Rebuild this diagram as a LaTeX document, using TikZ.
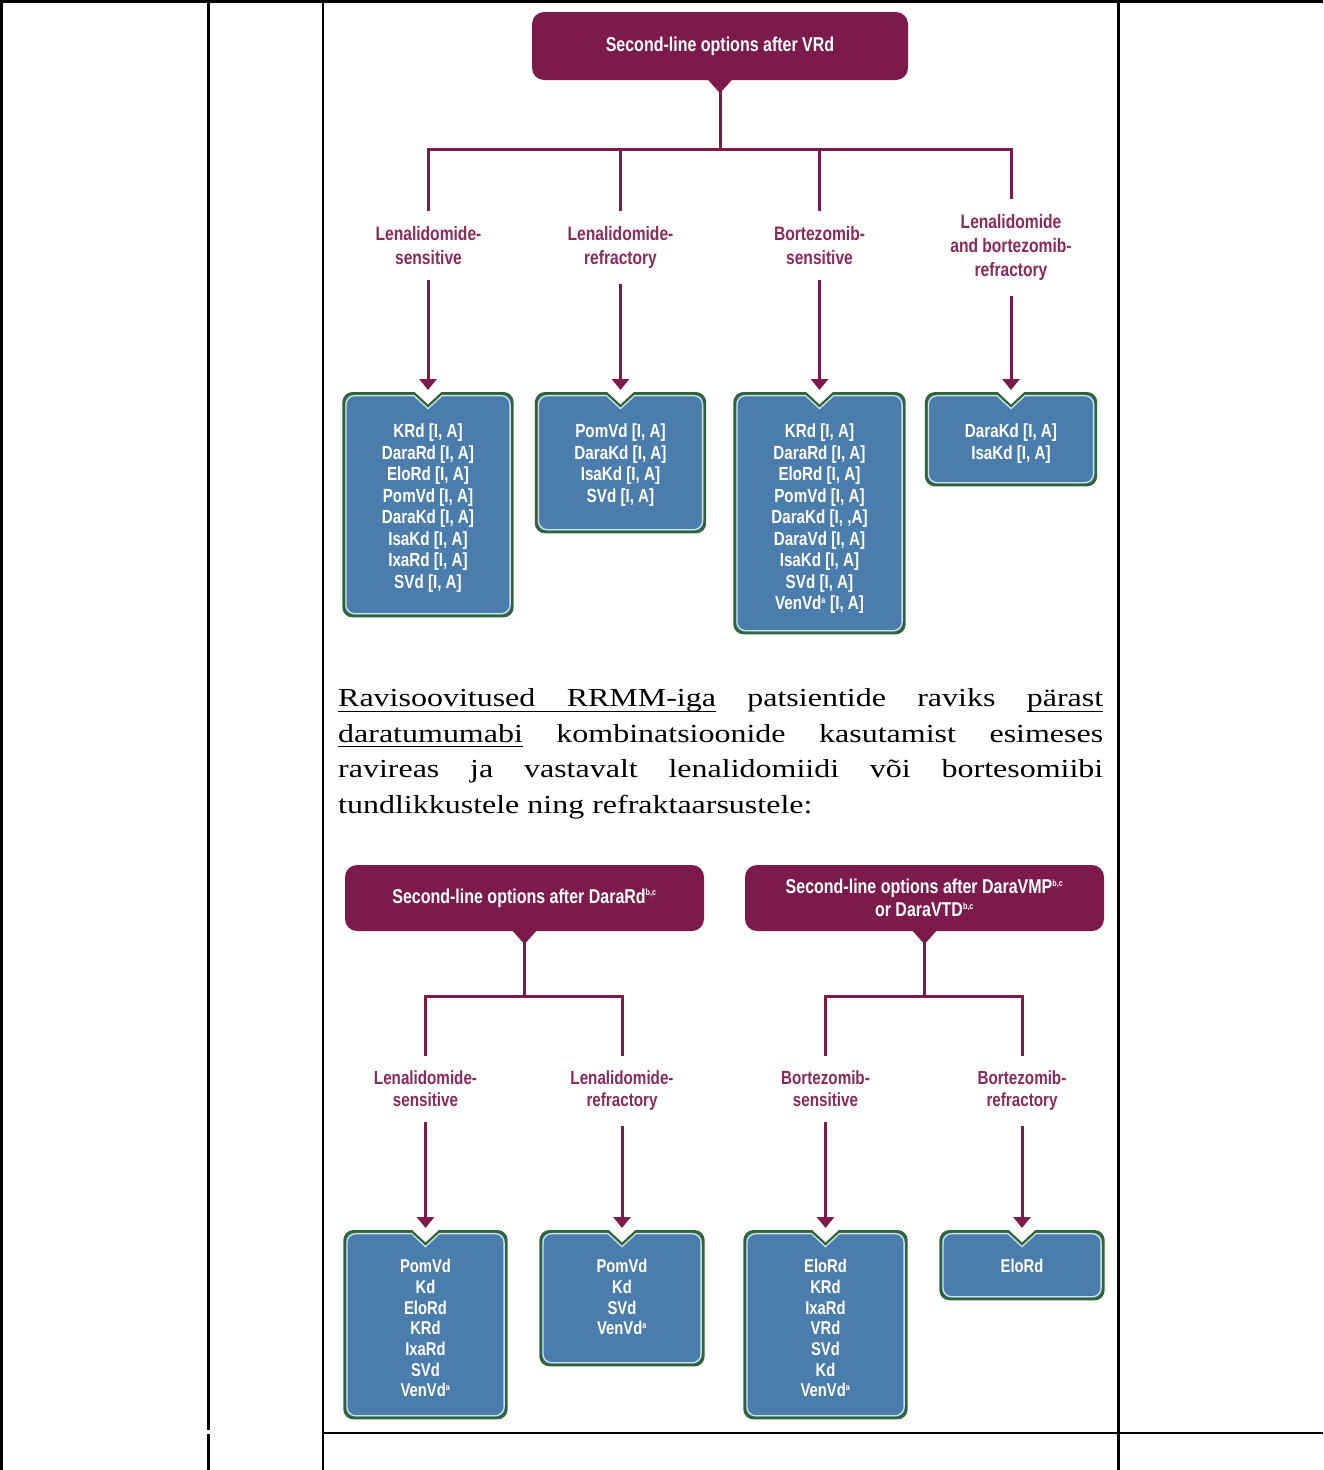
\documentclass[tikz,border=0pt]{standalone}
\usepackage{fontspec}
\setmainfont{Liberation Serif}
\newfontfamily\parafont[FakeStretch=1.23]{Liberation Serif}
\newfontfamily\cond[FakeStretch=0.8]{Liberation Sans}
\usetikzlibrary{arrows.meta,calc}

\definecolor{plum}{HTML}{7C1A4C}
\definecolor{labelplum}{HTML}{8A2A5A}
\definecolor{boxblue}{HTML}{4A7DAC}
\definecolor{boxgreen}{HTML}{2C6638}
\definecolor{boxrim}{HTML}{D2E0E8}

\tikzset{
  rule/.style={line width=2.6pt, draw=black},
  header/.style={fill=plum, rounded corners=12pt, inner sep=0pt, text=white,
    font=\cond\bfseries\fontsize{20}{23}\selectfont, align=center},
  branch/.style={line width=3pt, draw=plum},
  flow/.style={line width=3pt, draw=plum, shorten >=2pt,
    -{Triangle[width=17pt,length=11pt]}},
  branchlabel/.style={text=labelplum, font=\cond\bfseries\fontsize{19.5}{24}\selectfont,
    align=center, inner xsep=2pt, inner ysep=15pt, anchor=north},
  boxnode/.style={inner sep=0pt, draw=none},
  boxtext/.style={text=white, font=\cond\bfseries\fontsize{19}{21.5}\selectfont,
    align=center, inner sep=0pt, anchor=north},
  boxtextsmall/.style={boxtext, font=\cond\bfseries\fontsize{18.5}{20.7}\selectfont},
  para/.style={anchor=base west, inner sep=0pt, font=\parafont\fontsize{26}{35.5}\selectfont}
}

% underlined word, and an underlined space that stretches with the line
\newsavebox\ulbox
\newcommand\ulword[1]{\sbox\ulbox{#1}\rlap{\rule[-5.3pt]{\wd\ulbox}{1.4pt}}\usebox\ulbox}
\newcommand\ulspace{\leaders\hrule height -3.9pt depth 5.3pt\hskip\fontdimen2\font plus\fontdimen3\font minus\fontdimen4\font\relax}

% outline of an option box: rounded rectangle with a V notch at the top
\newcommand\notchpath[2]{%
  ($(#1.north)+(-14,#2)$) -- ($(#1.north west)+(#2+9,#2)$)
  arc[start angle=270,end angle=180,radius=9]
  -- ($(#1.south west)+(#2,-#2-9)$) arc[start angle=180,end angle=90,radius=9]
  -- ($(#1.south east)+(-#2-9,-#2)$) arc[start angle=90,end angle=0,radius=9]
  -- ($(#1.north east)+(-#2,#2+9)$) arc[start angle=0,end angle=-90,radius=9]
  -- ($(#1.north)+(14,#2)$) -- ($(#1.north)+(0,#2+13)$) -- cycle}

% name, centre x, top y, width, height
\newcommand\notchbox[5]{%
  \node[boxnode, minimum width=#4pt, minimum height=#5pt, anchor=north] (#1) at (#2,#3) {};
  \fill[boxblue] \notchpath{#1}{1.4};
  \draw[boxgreen, line width=2.8pt] \notchpath{#1}{1.4};
  \draw[boxrim, line width=1.3pt] \notchpath{#1}{3.6};
}

% header pointer under a header node
\newcommand\pointer[1]{%
  \fill[plum] ($(#1.south)+(-12.5,-1)$) -- ($(#1.south)+(0,13)$) -- ($(#1.south)+(12.5,-1)$) -- cycle;
}

\newcommand\sups[1]{\textsuperscript{\fontsize{9}{9}\selectfont #1}}

\begin{document}
\begin{tikzpicture}[x=1pt,y=-1pt]
\useasboundingbox (0,0) rectangle (1323,1470);

% table rules
\draw[rule] (0,1.2) -- (1323,1.2);
\draw[rule] (1.3,0) -- (1.3,1470);
\draw[rule] (208.3,0) -- (208.3,1430);
\draw[rule] (208.3,1434) -- (208.3,1470);
\draw[rule] (323,0) -- (323,1470);
\draw[rule] (1118.3,0) -- (1118.3,1470);
\draw[rule] (323,1433) -- (1323,1433);

% ---------- second-line options after VRd ----------
\node[header, minimum width=376pt, minimum height=68pt] (h1) at (720,46) {Second-line options after VRd};
\pointer{h1}
\coordinate (j1) at (720,149);

\node[branchlabel] (l1) at (428.5,211) {Lenalidomide-\\sensitive};
\node[branchlabel] (l2) at (620.5,211) {Lenalidomide-\\refractory};
\node[branchlabel] (l3) at (819.5,211) {Bortezomib-\\sensitive};
\node[branchlabel] (l4) at (1011,199) {Lenalidomide\\and bortezomib-\\refractory};

\draw[branch] (h1.south) -- (j1);
\draw[branch] (l1.north) |- (j1) -| (l4.north);
\draw[branch] (l2.north) -- (l2.north |- j1);
\draw[branch] (l3.north) -- (l3.north |- j1);

\notchbox{b1}{428}{392}{171}{225}
\notchbox{b2}{620.5}{392}{171}{141}
\notchbox{b3}{819.5}{392}{172}{242}
\notchbox{b4}{1011}{392}{172}{94}

\node[boxtext] (b1t) at (428,424) {KRd [I, A]\\DaraRd [I, A]\\EloRd [I, A]\\PomVd [I, A]\\DaraKd [I, A]\\IsaKd [I, A]\\IxaRd [I, A]\\SVd [I, A]};
\node[boxtext] (b2t) at (620.5,424) {PomVd [I, A]\\DaraKd [I, A]\\IsaKd [I, A]\\SVd [I, A]};
\node[boxtext] (b3t) at (819.5,424) {KRd [I, A]\\DaraRd [I, A]\\EloRd [I, A]\\PomVd [I, A]\\DaraKd [I, ,A]\\DaraVd [I, A]\\IsaKd [I, A]\\SVd [I, A]\\VenVd\sups{a} [I, A]};
\node[boxtext] (b4t) at (1011,424) {DaraKd [I, A]\\IsaKd [I, A]};

\draw[flow] (b1.north |- l1.south) -- (b1.north);
\draw[flow] (b2.north |- l2.south) -- (b2.north);
\draw[flow] (b3.north |- l3.south) -- (b3.north);
\draw[flow] (b4.north |- l4.south) -- (b4.north);

% ---------- explanatory paragraph ----------
\node[para] (p1) at (338,706.7) {\makebox[765pt][s]{\ulword{Ravisoovitused}\ulspace\ulword{RRMM-iga} patsientide raviks \ulword{pärast}}};
\node[para] (p2) at (338,742) {\makebox[765pt][s]{\ulword{daratumumabi} kombinatsioonide kasutamist esimeses}};
\node[para] (p3) at (338,777.3) {\makebox[765pt][s]{ravireas ja vastavalt lenalidomiidi või bortesomiibi}};
\node[para] (p4) at (338,813) {tundlikkustele ning refraktaarsustele:};

% ---------- second-line options after DaraRd ----------
\node[header, minimum width=359pt, minimum height=66pt] (h2) at (524.5,898) {Second-line options after DaraRd\sups{b,c}};
\pointer{h2}
\coordinate (j2) at (524.5,996);

\node[branchlabel, font=\cond\bfseries\fontsize{19}{22}\selectfont] (l5) at (425.5,1056) {Lenalidomide-\\sensitive};
\node[branchlabel, font=\cond\bfseries\fontsize{19}{22}\selectfont] (l6) at (622,1056) {Lenalidomide-\\refractory};

\draw[branch] (h2.south) -- (j2);
\draw[branch] (l5.north) |- (j2) -| (l6.north);

% ---------- second-line options after DaraVMP / DaraVTD ----------
\node[header, minimum width=359pt, minimum height=66pt] (h3) at (924.5,898) {Second-line options after DaraVMP\sups{b,c}\\or DaraVTD\sups{b,c}};
\pointer{h3}
\coordinate (j3) at (924.5,996);

\node[branchlabel, font=\cond\bfseries\fontsize{19}{22}\selectfont] (l7) at (825.5,1056) {Bortezomib-\\sensitive};
\node[branchlabel, font=\cond\bfseries\fontsize{19}{22}\selectfont] (l8) at (1022,1056) {Bortezomib-\\refractory};

\draw[branch] (h3.south) -- (j3);
\draw[branch] (l7.north) |- (j3) -| (l8.north);

\notchbox{b5}{425.5}{1230}{164}{189}
\notchbox{b6}{622}{1230}{165}{136}
\notchbox{b7}{825.5}{1230}{164}{189}
\notchbox{b8}{1022}{1230}{165}{70}

\node[boxtextsmall] (b5t) at (425.5,1259) {PomVd\\Kd\\EloRd\\KRd\\IxaRd\\SVd\\VenVd\sups{a}};
\node[boxtextsmall] (b6t) at (622,1259) {PomVd\\Kd\\SVd\\VenVd\sups{a}};
\node[boxtextsmall] (b7t) at (825.5,1259) {EloRd\\KRd\\IxaRd\\VRd\\SVd\\Kd\\VenVd\sups{a}};
\node[boxtextsmall] (b8t) at (1022,1259) {EloRd};

\draw[flow] (b5.north |- l5.south) -- (b5.north);
\draw[flow] (b6.north |- l6.south) -- (b6.north);
\draw[flow] (b7.north |- l7.south) -- (b7.north);
\draw[flow] (b8.north |- l8.south) -- (b8.north);
\end{tikzpicture}
\end{document}
